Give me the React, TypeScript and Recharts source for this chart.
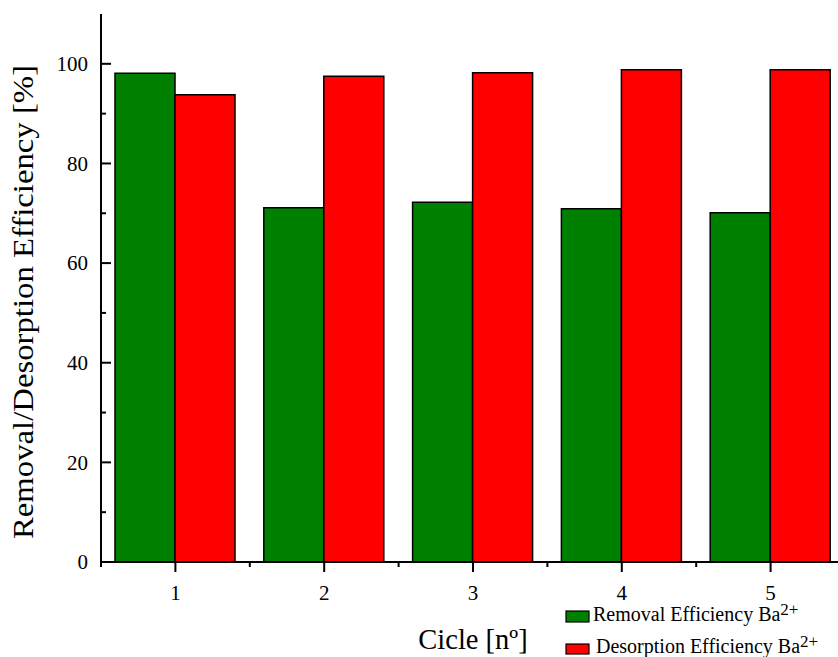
import React from 'react';
import { BarChart, Bar, XAxis, YAxis, Legend } from 'recharts';

const cycles = ['1', '2', '3', '4', '5'];
const removalEfficiency = [98.1, 71.1, 72.2, 70.9, 70.1];
const desorptionEfficiency = [93.8, 97.5, 98.2, 98.8, 98.8];
const yTicks = [0, 10, 20, 30, 40, 50, 60, 70, 80, 90, 100];
const seriesNames = ['Removal Efficiency Ba', 'Desorption Efficiency Ba'];
const ionCharge = '2+';
const seriesColors = ['#008000', '#FF0000'];
const xTitle = 'Cicle [nº]';
const yTitle = 'Removal/Desorption Efficiency [%]';

const data = cycles.map((c, i) => ({
  cycle: c,
  removal: removalEfficiency[i],
  desorption: desorptionEfficiency[i],
}));

const FONT = "'Liberation Serif', 'Times New Roman', Times, serif";
const CHART_W = 870;
const CHART_H = 657;
const MARGIN = { top: 14, right: 25, left: 0, bottom: 0 };
const Y_AXIS_W = 101;
const PLOT_W = CHART_W - MARGIN.right - MARGIN.left - Y_AXIS_W;

const YTick = (props: any) => {
  const { x, y, payload } = props;
  const major = payload.value % 20 === 0;
  return (
    <g>
      <line x1={x} x2={x + (major ? 10 : 5)} y1={y} y2={y} stroke="#000" strokeWidth={2} />
      {major && (
        <text x={x - 13} y={y} dy="0.35em" textAnchor="end" fontSize={21} fontFamily={FONT} fill="#000">
          {payload.value}
        </text>
      )}
    </g>
  );
};

const XTick = (props: any) => {
  const { x, y, payload, index } = props;
  const half = PLOT_W / cycles.length / 2;
  return (
    <g>
      <line x1={x} x2={x} y1={y} y2={y + 10} stroke="#000" strokeWidth={2} />
      <line x1={x - half} x2={x - half} y1={y} y2={y + 5} stroke="#000" strokeWidth={2} />
      {index === cycles.length - 1 && (
        <line x1={x + half} x2={x + half} y1={y} y2={y + 5} stroke="#000" strokeWidth={2} />
      )}
      <text x={x} y={y + 38} textAnchor="middle" fontSize={21} fontFamily={FONT} fill="#000">
        {payload.value}
      </text>
    </g>
  );
};

const XLabel = (props: any) => {
  const vb = props.viewBox || { x: 101, y: 562, width: PLOT_W };
  return (
    <text x={vb.x + vb.width / 2} y={649} textAnchor="middle" fontSize={28.5} fontFamily={FONT} fill="#000">
      {xTitle}
    </text>
  );
};

const YLabel = () => {
  const cx = 33;
  const cy = 302;
  return (
    <text
      x={cx}
      y={cy}
      transform={`rotate(-90, ${cx}, ${cy})`}
      textAnchor="middle"
      fontSize={29}
      fontFamily={FONT}
      fill="#000"
      textLength={474}
      lengthAdjust="spacingAndGlyphs"
    >
      {yTitle}
    </text>
  );
};

const LegendContent = () => (
  <svg width={278} height={57} style={{ overflow: 'visible', display: 'block' }}>
    {seriesNames.map((name, i) => (
      <g key={name}>
        <rect x={6} y={i === 0 ? 11 : 44} width={23} height={i === 0 ? 11 : 10} fill={seriesColors[i]} stroke="#000" strokeWidth={1.2} />
        <text x={i === 0 ? 33 : 36} y={i === 0 ? 21 : 53} fontSize={20} fontFamily={FONT} fill="#000">
          {name}
          <tspan dy={-6} fontSize={17}>{ionCharge}</tspan>
        </text>
      </g>
    ))}
  </svg>
);

export default function App() {
  return (
    <div style={{ position: 'absolute', left: 0, top: 0, width: 838, height: 657, overflow: 'hidden', background: '#fff' }}>
      <BarChart width={CHART_W} height={CHART_H} data={data} margin={MARGIN} barGap={0} barSize={60}>
        <XAxis
          dataKey="cycle"
          height={95}
          axisLine={{ stroke: '#000', strokeWidth: 2 }}
          tickLine={false}
          tickSize={0}
          tickMargin={0}
          tick={<XTick />}
          interval={0}
          label={<XLabel />}
        />
        <XAxis
          xAxisId="top"
          dataKey="cycle"
          orientation="top"
          height={0}
          axisLine={{ stroke: '#000', strokeWidth: 2 }}
          tickLine={false}
          tick={false}
        />
        <YAxis
          width={Y_AXIS_W}
          domain={[0, 110]}
          ticks={yTicks}
          interval={0}
          axisLine={{ stroke: '#000', strokeWidth: 2 }}
          tickLine={false}
          tickSize={0}
          tickMargin={0}
          tick={<YTick />}
          label={<YLabel />}
        />
        <Legend
          layout="vertical"
          align="center"
          verticalAlign="middle"
          wrapperStyle={{ left: 560, top: 600, width: 278, height: 57 }}
          content={<LegendContent />}
        />
        <Bar dataKey="removal" name={seriesNames[0]} fill={seriesColors[0]} stroke="#000" strokeWidth={1.5} isAnimationActive={false} />
        <Bar dataKey="desorption" name={seriesNames[1]} fill={seriesColors[1]} stroke="#000" strokeWidth={1.5} isAnimationActive={false} />
      </BarChart>
    </div>
  );
}
